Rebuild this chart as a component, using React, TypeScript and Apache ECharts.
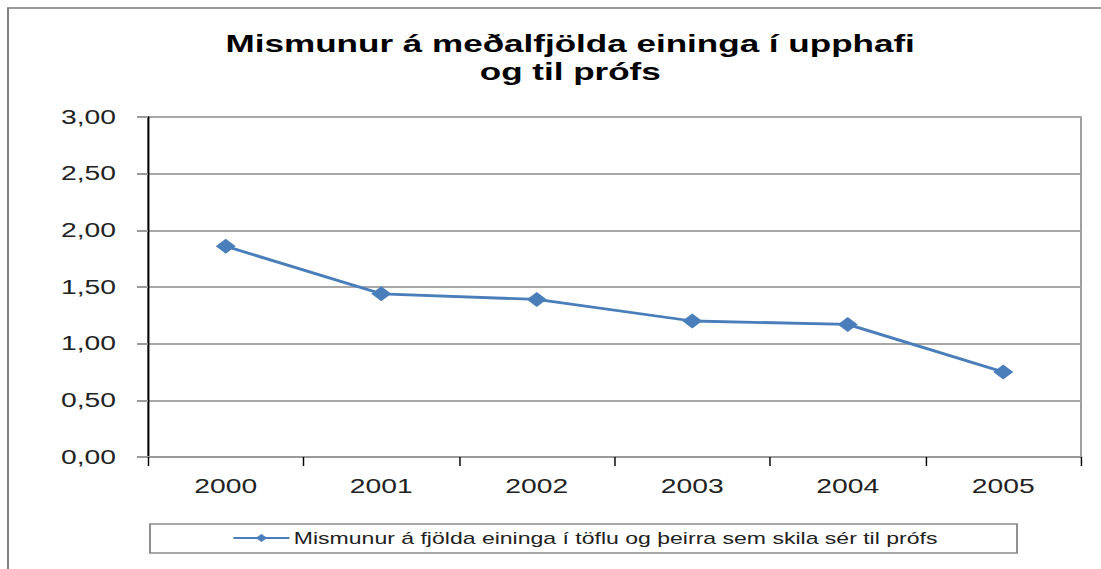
import React, { useEffect, useRef } from "react";
import * as echarts from "echarts";

const titleLines = ["Mismunur á meðalfjölda eininga í upphafi", "og til prófs"];
const categories = ["2000", "2001", "2002", "2003", "2004", "2005"];
const seriesName = "Mismunur á fjölda eininga í töflu og þeirra sem skila sér til prófs";
const values = [1.86, 1.44, 1.39, 1.2, 1.17, 0.75];
const yTicks = { min: 0, max: 3, interval: 0.5 };

const PAGE_W = 1101;
const PAGE_H = 569;
const BASE_W = 760;
const SX = PAGE_W / BASE_W;
const px = (x: number) => x / SX;

export default function App() {
  const ref = useRef<HTMLDivElement>(null);
  useEffect(() => {
    if (!ref.current) return;
    const chart = echarts.init(ref.current, null, { renderer: "svg", width: BASE_W, height: PAGE_H });
    const font = "'Liberation Sans', Arial, sans-serif";
    chart.setOption({
      animation: false,
      backgroundColor: "#ffffff",
      title: {
        text: titleLines.join("\n"),
        left: px(563),
        top: 25,
        textAlign: "center",
        textStyle: { fontFamily: font, fontSize: 24.2, fontWeight: "bold", color: "#000", lineHeight: 28 },
      },
      graphic: [
        {
          type: "rect",
          shape: { x: px(8), y: 8, width: 2000, height: 2000 },
          style: { fill: "none", stroke: "#7a7a7a", lineWidth: 1.3 },
          silent: true,
        },
        {
          type: "rect",
          shape: { x: px(150), y: 524, width: px(1017) - px(150), height: 29 },
          style: { fill: "none", stroke: "#8a8a8a", lineWidth: 1.3 },
          silent: true,
        },
      ],
      legend: {
        left: px(232),
        top: 528,
        padding: 0,
        itemWidth: px(56),
        itemHeight: 10,
        itemGap: 0,
        textStyle: { fontFamily: font, fontSize: 15.9, color: "#222", lineHeight: 20, padding: [0, 0, 0, -2] },
        data: [{ name: seriesName }],
      },
      grid: {
        left: px(148),
        right: BASE_W - px(1081),
        top: 117,
        bottom: PAGE_H - 457,
        show: true,
        borderColor: "#9a9a9a",
        borderWidth: 1.3,
        containLabel: false,
      },
      xAxis: {
        type: "category",
        data: categories,
        boundaryGap: true,
        axisLine: { show: true, lineStyle: { color: "#9a9a9a", width: 2 } },
        axisTick: { show: true, alignWithLabel: false, length: 9, lineStyle: { color: "#000", width: 1 } },
        axisLabel: { fontFamily: font, fontSize: 19.5, color: "#222", margin: 19 },
        splitLine: { show: false },
      },
      yAxis: {
        type: "value",
        min: yTicks.min,
        max: yTicks.max,
        interval: yTicks.interval,
        axisLine: { show: true, lineStyle: { color: "#000", width: 1.3 } },
        axisTick: { show: true, length: px(11), lineStyle: { color: "#9a9a9a", width: 2 } },
        axisLabel: {
          fontFamily: font,
          fontSize: 19.5,
          color: "#222",
          margin: px(32),
          formatter: (v: number) => v.toFixed(2).replace(".", ","),
        },
        splitLine: { show: true, lineStyle: { color: "#a8a8a8", width: 2 } },
      },
      series: [
        {
          name: seriesName,
          type: "line",
          data: values,
          symbol: "diamond",
          symbolSize: [px(20), 15],
          lineStyle: { color: "#4a7ebb", width: 2.8 },
          itemStyle: { color: "#4a7ebb" },
        },
      ],
    });
    return () => chart.dispose();
  }, []);
  return (
    <div style={{ position: "fixed", left: 0, top: 0, width: PAGE_W, height: PAGE_H, overflow: "hidden", background: "#fff" }}>
      <div
        ref={ref}
        style={{ width: BASE_W, height: PAGE_H, transform: `scaleX(${SX})`, transformOrigin: "0 0" }}
      />
    </div>
  );
}
